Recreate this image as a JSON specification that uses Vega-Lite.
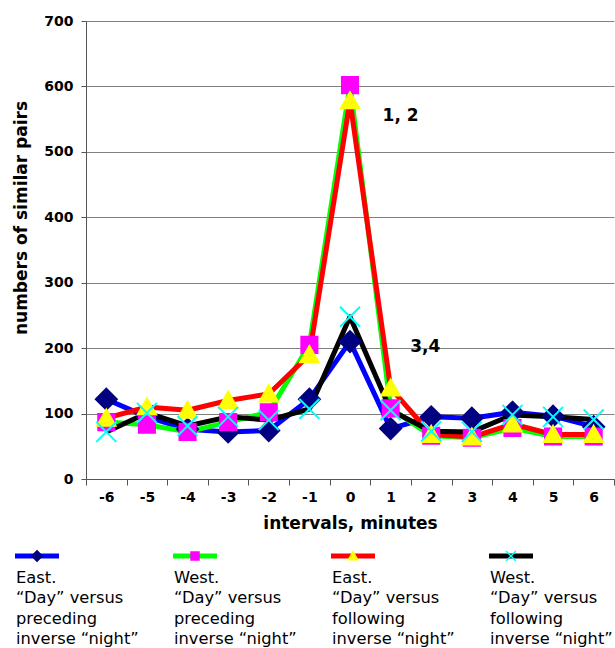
{
  "$schema": "https://vega.github.io/schema/vega-lite/v6.json",
  "background": "white",
  "padding": {"left": 5, "top": 14, "right": 0, "bottom": 0},
  "spacing": 15,
  "config": {
    "view": {"stroke": null},
    "font": "DejaVu Sans",
    "axis": {
      "labelColor": "black",
      "titleColor": "black",
      "labelFontWeight": "bold",
      "titleFontWeight": "bold",
      "labelFontSize": 14,
      "titleFontSize": 17,
      "domainColor": "#555555",
      "tickColor": "#555555",
      "gridColor": "#808080",
      "gridWidth": 1
    }
  },
  "datasets": {
    "pairs": [
      {"series": "East, preceding", "interval": -6, "value": 122},
      {"series": "East, preceding", "interval": -5, "value": 95},
      {"series": "East, preceding", "interval": -4, "value": 76},
      {"series": "East, preceding", "interval": -3, "value": 72},
      {"series": "East, preceding", "interval": -2, "value": 74},
      {"series": "East, preceding", "interval": -1, "value": 122},
      {"series": "East, preceding", "interval": 0, "value": 210},
      {"series": "East, preceding", "interval": 1, "value": 77},
      {"series": "East, preceding", "interval": 2, "value": 95},
      {"series": "East, preceding", "interval": 3, "value": 93},
      {"series": "East, preceding", "interval": 4, "value": 102},
      {"series": "East, preceding", "interval": 5, "value": 96},
      {"series": "East, preceding", "interval": 6, "value": 80},
      {"series": "West, preceding", "interval": -6, "value": 87},
      {"series": "West, preceding", "interval": -5, "value": 83},
      {"series": "West, preceding", "interval": -4, "value": 72},
      {"series": "West, preceding", "interval": -3, "value": 87},
      {"series": "West, preceding", "interval": -2, "value": 102},
      {"series": "West, preceding", "interval": -1, "value": 205},
      {"series": "West, preceding", "interval": 0, "value": 602},
      {"series": "West, preceding", "interval": 1, "value": 108},
      {"series": "West, preceding", "interval": 2, "value": 66},
      {"series": "West, preceding", "interval": 3, "value": 63},
      {"series": "West, preceding", "interval": 4, "value": 78},
      {"series": "West, preceding", "interval": 5, "value": 65},
      {"series": "West, preceding", "interval": 6, "value": 65},
      {"series": "East, following", "interval": -6, "value": 93},
      {"series": "East, following", "interval": -5, "value": 110},
      {"series": "East, following", "interval": -4, "value": 105},
      {"series": "East, following", "interval": -3, "value": 120},
      {"series": "East, following", "interval": -2, "value": 130},
      {"series": "East, following", "interval": -1, "value": 190},
      {"series": "East, following", "interval": 0, "value": 578},
      {"series": "East, following", "interval": 1, "value": 139},
      {"series": "East, following", "interval": 2, "value": 68},
      {"series": "East, following", "interval": 3, "value": 64},
      {"series": "East, following", "interval": 4, "value": 84},
      {"series": "East, following", "interval": 5, "value": 68},
      {"series": "East, following", "interval": 6, "value": 68},
      {"series": "West, following", "interval": -6, "value": 72},
      {"series": "West, following", "interval": -5, "value": 101},
      {"series": "West, following", "interval": -4, "value": 81},
      {"series": "West, following", "interval": -3, "value": 95},
      {"series": "West, following", "interval": -2, "value": 90},
      {"series": "West, following", "interval": -1, "value": 107},
      {"series": "West, following", "interval": 0, "value": 248},
      {"series": "West, following", "interval": 1, "value": 105},
      {"series": "West, following", "interval": 2, "value": 73},
      {"series": "West, following", "interval": 3, "value": 72},
      {"series": "West, following", "interval": 4, "value": 98},
      {"series": "West, following", "interval": 5, "value": 95},
      {"series": "West, following", "interval": 6, "value": 91}
    ],
    "key": [
      {"series": "East, preceding", "label": "East.|“Day” versus|preceding|inverse “night”"},
      {"series": "West, preceding", "label": "West.|“Day” versus|preceding|inverse “night”"},
      {"series": "East, following", "label": "East.|“Day” versus|following|inverse “night”"},
      {"series": "West, following", "label": "West.|“Day” versus|following|inverse “night”"}
    ]
  },
  "vconcat": [
    {
      "width": 528,
      "height": 458,
      "data": {"name": "pairs"},
      "encoding": {
        "x": {
          "field": "interval",
          "type": "ordinal",
          "scale": {"type": "band", "domain": [-6, -5, -4, -3, -2, -1, 0, 1, 2, 3, 4, 5, 6], "paddingInner": 0, "paddingOuter": 0},
          "axis": {
            "title": "intervals, minutes",
            "tickBand": "extent",
            "grid": false,
            "labelAngle": 0,
            "tickSize": 6,
            "labelPadding": 5,
            "titlePadding": 11
          }
        },
        "y": {
          "field": "value",
          "type": "quantitative",
          "scale": {"domain": [0, 700], "nice": false},
          "axis": {
            "title": "numbers of similar pairs",
            "values": [0, 100, 200, 300, 400, 500, 600, 700],
            "grid": true,
            "tickSize": 5,
            "labelPadding": 8,
            "titlePadding": 13,
            "titleY": 196.5
          }
        }
      },
      "layer": [
        {
          "mark": {"type": "line", "strokeWidth": 5, "strokeJoin": "round"},
          "encoding": {
            "color": {
              "field": "series",
              "type": "nominal",
              "scale": {
                "domain": ["East, preceding", "West, preceding", "East, following", "West, following"],
                "range": ["#0000FF", "#00FF00", "#FF0000", "#000000"]
              },
              "legend": null
            }
          }
        },
        {
          "mark": {"type": "point", "filled": true, "opacity": 1, "size": 529, "strokeWidth": 2},
          "encoding": {
            "shape": {
              "field": "series",
              "type": "nominal",
              "scale": {
                "domain": ["East, preceding", "West, preceding", "East, following", "West, following"],
                "range": [
                  "M0,-0.91L0.91,0L0,0.91L-0.91,0Z",
                  "M-0.7,-0.7L0.7,-0.7L0.7,0.7L-0.7,0.7Z",
                  "M0,-0.75L0.8,0.65L-0.8,0.65Z",
                  "M-0.87,-0.87L0.87,0.87M0.87,-0.87L-0.87,0.87"
                ]
              },
              "legend": null
            },
            "fill": {
              "field": "series",
              "type": "nominal",
              "scale": {
                "domain": ["East, preceding", "West, preceding", "East, following", "West, following"],
                "range": ["#000080", "#FF00FF", "#FFFF00", "transparent"]
              },
              "legend": null
            },
            "stroke": {
              "field": "series",
              "type": "nominal",
              "scale": {
                "domain": ["East, preceding", "West, preceding", "East, following", "West, following"],
                "range": ["#000080", "#FF00FF", "#FFFF00", "#00FFFF"]
              },
              "legend": null
            }
          }
        },
        {
          "data": {"values": [{"interval": 1, "value": 555, "note": "1, 2"}]},
          "mark": {"type": "text", "fontSize": 17, "fontWeight": "bold", "align": "left", "baseline": "middle", "dx": -8, "color": "black"},
          "encoding": {"text": {"field": "note"}}
        },
        {
          "data": {"values": [{"interval": 2, "value": 201, "note": "3,4"}]},
          "mark": {"type": "text", "fontSize": 17, "fontWeight": "bold", "align": "left", "baseline": "middle", "dx": -21, "color": "black"},
          "encoding": {"text": {"field": "note"}}
        }
      ]
    },
    {
      "width": 528,
      "height": 20,
      "data": {"name": "key"},
      "encoding": {
        "x": {
          "field": "series",
          "type": "nominal",
          "bandPosition": 0,
          "scale": {
            "type": "band",
            "domain": ["East, preceding", "West, preceding", "East, following", "West, following"],
            "range": [-70, 562],
            "paddingInner": 0,
            "paddingOuter": 0
          },
          "axis": null
        }
      },
      "layer": [
        {
          "mark": {"type": "point", "shape": "stroke", "filled": false, "size": 1936, "strokeWidth": 5, "opacity": 1, "xOffset": 21},
          "encoding": {
            "color": {
              "field": "series",
              "type": "nominal",
              "scale": {
                "domain": ["East, preceding", "West, preceding", "East, following", "West, following"],
                "range": ["#0000FF", "#00FF00", "#FF0000", "#000000"]
              },
              "legend": null
            }
          }
        },
        {
          "mark": {"type": "point", "filled": true, "opacity": 1, "size": 130, "strokeWidth": 1.5, "xOffset": 21},
          "encoding": {
            "shape": {
              "field": "series",
              "type": "nominal",
              "scale": {
                "domain": ["East, preceding", "West, preceding", "East, following", "West, following"],
                "range": [
                  "M0,-0.91L0.91,0L0,0.91L-0.91,0Z",
                  "M-0.7,-0.7L0.7,-0.7L0.7,0.7L-0.7,0.7Z",
                  "M0,-0.75L0.8,0.65L-0.8,0.65Z",
                  "M-0.87,-0.87L0.87,0.87M0.87,-0.87L-0.87,0.87"
                ]
              },
              "legend": null
            },
            "fill": {
              "field": "series",
              "type": "nominal",
              "scale": {
                "domain": ["East, preceding", "West, preceding", "East, following", "West, following"],
                "range": ["#000080", "#FF00FF", "#FFFF00", "transparent"]
              },
              "legend": null
            },
            "stroke": {
              "field": "series",
              "type": "nominal",
              "scale": {
                "domain": ["East, preceding", "West, preceding", "East, following", "West, following"],
                "range": ["#000080", "#FF00FF", "#FFFF00", "#00FFFF"]
              },
              "legend": null
            }
          }
        },
        {
          "mark": {"type": "text", "align": "left", "baseline": "alphabetic", "fontSize": 16.3, "lineBreak": "|", "lineHeight": 20.4, "dy": 27, "color": "black"},
          "encoding": {"text": {"field": "label"}}
        }
      ]
    }
  ]
}
